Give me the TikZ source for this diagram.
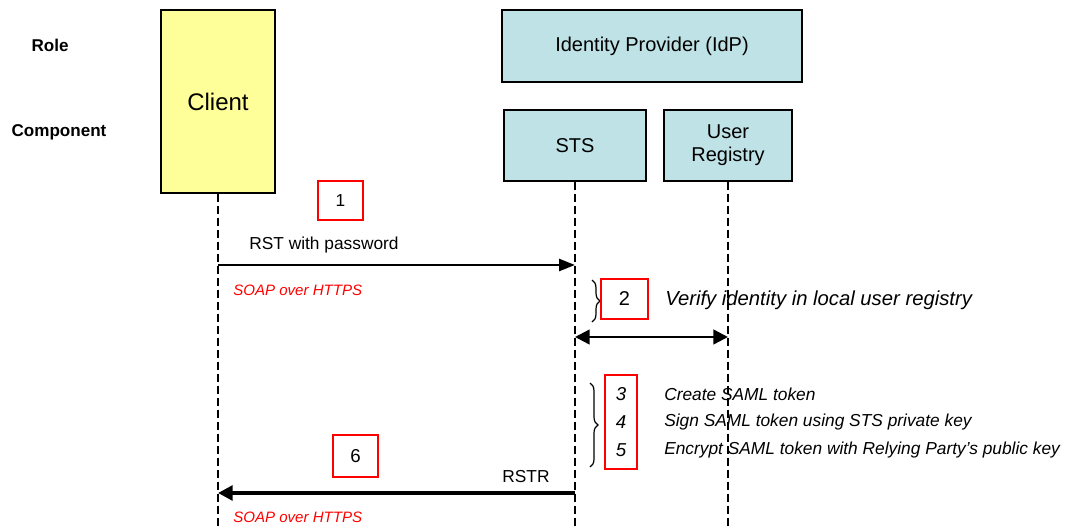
\documentclass[tikz,border=0pt]{standalone}
\usepackage{fontspec}
\setmainfont{Liberation Sans}
\usepackage{tikz}
\usetikzlibrary{arrows.meta}
\usetikzlibrary{decorations.pathreplacing}
\definecolor{clientyellow}{HTML}{FFFF99}
\definecolor{idpblue}{HTML}{BEE2E5}

\begin{document}
\begin{tikzpicture}[x=0.75pt,y=-0.75pt,
  box/.style={draw=black,line width=1.1pt,inner sep=0pt,align=center,font=\fontsize{15}{17.5}\selectfont},
  redbox/.style={draw=red,line width=0.9pt,inner sep=0pt,align=center,font=\fontsize{13}{21}\selectfont},
  rowlbl/.style={font=\fontsize{12.8}{14}\selectfont\bfseries},
  lifeline/.style={dash pattern=on 6pt off 3pt,line width=2pt},
  msg/.style={line width=2pt,-{Triangle[length=12pt,width=9pt]}},
  lbl/.style={font=\fontsize{13}{15}\selectfont,inner sep=0pt},
  redtxt/.style={text=red,font=\fontsize{11.3}{13}\selectfont\itshape,anchor=west,inner sep=0pt},
  steptxt/.style={font=\fontsize{13}{15}\selectfont\itshape,anchor=west,inner sep=0pt},
  curly/.style={decorate,decoration={brace,amplitude=6pt},line width=0.9pt}]
  \useasboundingbox (0,0) rectangle (1068,529);

  \node[rowlbl] (role) at (50,45) {Role};
  \node[rowlbl] (component) at (59,132) {Component};

  \node[box,fill=clientyellow,minimum width=85.5pt,minimum height=137.25pt,font=\fontsize{18}{21}\selectfont] (client) at (218,101.5) {Client};
  \node[box,fill=idpblue,minimum width=225pt,minimum height=54pt] (idp) at (652,46) {Identity Provider (IdP)};
  \node[box,fill=idpblue,minimum width=106.5pt,minimum height=53.25pt] (sts) at (575,145.5) {STS};
  \node[box,fill=idpblue,minimum width=96pt,minimum height=53.25pt] (ureg) at (728,145.5) {User\\Registry};

  \coordinate (bottom) at (0,529);
  \draw[lifeline] (client.south) -- (client |- bottom);
  \draw[lifeline] (sts.south) -- (sts |- bottom);
  \draw[lifeline] (ureg.south) -- (ureg |- bottom);

  % step 1
  \node[redbox,minimum width=33.75pt,minimum height=29.25pt] (s1) at (340.5,200.5) {1};
  \coordinate (m1) at (0,265);
  \node[lbl] (rst) at (324,245) {RST with password};
  \draw[msg] (client |- m1) -- (sts |- m1);
  \node[redtxt] (soap1) at (233,290) {SOAP over HTTPS};

  % step 2
  \draw[curly] (592,280) -- (592,322);
  \node[redbox,minimum width=35.25pt,minimum height=30pt,font=\fontsize{15}{17}\selectfont] (s2) at (624.5,299) {2};
  \node[steptxt,font=\fontsize{15.2}{18}\selectfont\itshape] (verify) at (665,300) {Verify identity in local user registry};
  \coordinate (m2) at (0,337);
  \draw[line width=1.8pt,{Triangle[length=11pt,width=11pt]}-{Triangle[length=11pt,width=11pt]}] (sts |- m2) -- (ureg |- m2);

  % steps 3-5
  \draw[curly] (590,383) -- (590,467);
  \node[redbox,minimum width=24pt,minimum height=70.5pt,font=\fontsize{14}{21}\selectfont\itshape] (s345) at (621,422) {3\\4\\5};
  \node[steptxt] (create) at (664,394) {Create SAML token};
  \node[steptxt] (sign) at (664,422) {Sign SAML token using STS private key};
  \node[steptxt] (encrypt) at (664,450) {Encrypt SAML token with Relying Party's public key};

  % step 6
  \node[redbox,minimum width=33.75pt,minimum height=31.5pt,font=\fontsize{14}{17}\selectfont] (s6) at (355.5,456) {6};
  \node[lbl] (rstr) at (526,477) {RSTR};
  \coordinate (m6) at (0,493);
  \draw[line width=3.6pt,-{Triangle[length=11pt,width=11pt]}] (sts |- m6) -- (client |- m6);
  \node[redtxt] (soap2) at (233,517) {SOAP over HTTPS};
\end{tikzpicture}
\end{document}
